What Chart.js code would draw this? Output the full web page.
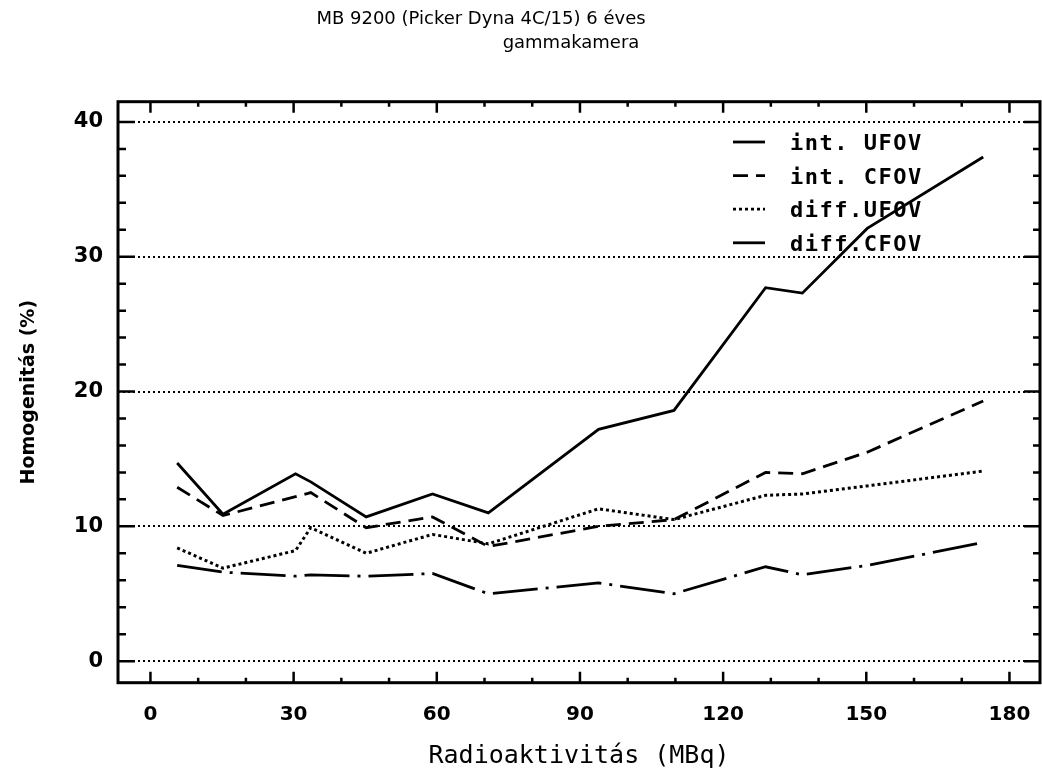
<!DOCTYPE html>
<html lang="hu">
<head>
<meta charset="utf-8">
<title>MB 9200 gammakamera – homogenitás</title>
<script src="https://cdn.jsdelivr.net/npm/chart.js@4.4.1/dist/chart.umd.min.js"></script>
<style>
    html, body { margin: 0; padding: 0; background: #fff; }
    canvas { display: block; }
</style>
</head>
<body>
<canvas id="grafikon" width="1042" height="773"></canvas>
<script>
// mérési pontok: aktivitás (MBq)
const aktivitas = [5.6, 15.2, 30.4, 33.6, 45.2, 59.1, 70.8, 93.9, 109.7, 128.9, 136.6, 150.2, 174.5];

// homogenitás (%) az egyes aktivitásoknál
const intUFOV  = [14.7, 10.9, 13.9, 13.3, 10.7, 12.4, 11.0, 17.2, 18.6, 27.7, 27.3, 32.1, 37.4];
const intCFOV  = [12.9, 10.8, 12.2, 12.5,  9.9, 10.7,  8.5, 10.0, 10.5, 14.0, 13.9, 15.5, 19.3];
const diffUFOV = [ 8.4,  6.9,  8.2,  9.9,  8.0,  9.4,  8.7, 11.3, 10.5, 12.3, 12.4, 13.0, 14.1];
const diffCFOV = [ 7.1,  6.6,  6.3,  6.4,  6.3,  6.5,  5.0,  5.8,  5.0,  7.0,  6.4,  7.1,  8.8];

const sorozatNevek = ["int. UFOV", "int. CFOV", "diff.UFOV", "diff.CFOV"];
const xTicks = [0, 30, 60, 90, 120, 150, 180];
const yTicks = [0, 10, 20, 30, 40];

function pontok(ertekek) {
    return aktivitas.map((x, i) => ({ x: x, y: ertekek[i] }));
}

// keret + befelé mutató osztásjelek mind a négy oldalon
const keret = {
    id: "keret",
    afterDatasetsDraw(chart) {
        const { ctx, chartArea: a, scales: { x, y } } = chart;
        ctx.save();
        ctx.strokeStyle = "#000";
        ctx.lineWidth = 2.5;
        ctx.beginPath();
        for (let v = 0; v <= 180; v += 10) {
            const px = x.getPixelForValue(v);
            const h = v % 30 === 0 ? 11 : 5;
            ctx.moveTo(px, a.bottom); ctx.lineTo(px, a.bottom - h);
            ctx.moveTo(px, a.top); ctx.lineTo(px, a.top + h);
        }
        for (let v = 0; v <= 40; v += 2) {
            const py = y.getPixelForValue(v);
            const fo = v % 10 === 0;
            ctx.moveTo(a.left, py); ctx.lineTo(a.left + (fo ? 17 : 8), py);
            ctx.moveTo(a.right, py); ctx.lineTo(a.right - (fo ? 16 : 7), py);
        }
        ctx.stroke();
        ctx.lineWidth = 3;
        ctx.strokeRect(a.left, a.top, a.right - a.left, a.bottom - a.top);
        ctx.restore();
    }
};

// jelmagyarázat a rajzterület jobb felső sarkában
const jelmagyarazat = {
    id: "jelmagyarazat",
    afterDraw(chart) {
        const ctx = chart.ctx;
        ctx.save();
        ctx.font = "bold 22px 'DejaVu Sans Mono'";
        ctx.letterSpacing = "1.5px";
        ctx.fillStyle = "#000";
        ctx.strokeStyle = "#000";
        chart.data.datasets.forEach((ds, i) => {
            const sor = 142 + i * 33.6;
            ctx.lineWidth = 2.8;
            ctx.setLineDash(ds.borderDash || []);
            ctx.beginPath();
            ctx.moveTo(733, sor);
            ctx.lineTo(765, sor);
            ctx.stroke();
            ctx.setLineDash([]);
            ctx.fillText(ds.label, 790, sor + 8);
        });
        ctx.restore();
    }
};

// kétsoros cím
const cim = {
    id: "cim",
    afterDraw(chart) {
        const ctx = chart.ctx;
        ctx.save();
        ctx.fillStyle = "#000";
        ctx.textAlign = "center";
        ctx.font = "18px 'DejaVu Sans'";
        ctx.fillText("MB 9200 (Picker Dyna 4C/15) 6 éves", 481, 24);
        ctx.fillText("gammakamera", 571, 48);
        ctx.restore();
    }
};

const vonal = { borderColor: "#000", borderWidth: 2.8, pointRadius: 0, tension: 0, fill: false, borderCapStyle: "butt" };

new Chart(document.getElementById("grafikon"), {
    type: "line",
    data: {
        datasets: [
            { ...vonal, label: sorozatNevek[0], data: pontok(intUFOV), borderDash: [] },
            { ...vonal, label: sorozatNevek[1], data: pontok(intCFOV), borderDash: [15, 8] },
            { ...vonal, label: sorozatNevek[2], data: pontok(diffUFOV), borderDash: [3, 3], borderWidth: 3 },
            { ...vonal, label: sorozatNevek[3], data: pontok(diffCFOV), borderDash: [45, 8, 3, 8] }
        ]
    },
    options: {
        responsive: false,
        animation: false,
        devicePixelRatio: 1,
        layout: { padding: { top: 101.7, right: 2, left: 0, bottom: 0 } },
        plugins: {
            legend: { display: false },
            tooltip: { enabled: false }
        },
        scales: {
            x: {
                type: "linear",
                min: -6.8,
                max: 186.4,
                afterBuildTicks: s => { s.ticks = xTicks.map(v => ({ value: v })); },
                afterFit: s => { s.height = 90.3; s.paddingLeft = 0; s.paddingRight = 0; },
                grid: { display: false, drawTicks: false },
                border: { display: false },
                ticks: {
                    color: "#000",
                    padding: 20,
                    maxRotation: 0,
                    font: { family: "DejaVu Sans", size: 20, weight: "bold" }
                },
                title: {
                    display: true,
                    text: "Radioaktivitás (MBq)",
                    color: "#000",
                    font: { family: "DejaVu Sans Mono", size: 25 },
                    padding: { top: 0, bottom: 2 }
                }
            },
            y: {
                type: "linear",
                min: -1.6,
                max: 41.5,
                afterBuildTicks: s => { s.ticks = yTicks.map(v => ({ value: v })); },
                afterFit: s => { s.width = 118; s.paddingTop = 0; s.paddingBottom = 0; },
                grid: { color: "#000", lineWidth: 2, drawTicks: false },
                border: { display: false, dash: [2, 3] },
                ticks: {
                    color: "#000",
                    padding: 15,
                    font: { family: "DejaVu Sans", size: 21, weight: "bold" }
                },
                title: {
                    display: true,
                    text: "Homogenitás (%)",
                    color: "#000",
                    font: { family: "DejaVu Sans", size: 19, weight: "bold" },
                    padding: { top: 18, bottom: 0 }
                }
            }
        }
    },
    plugins: [keret, jelmagyarazat, cim]
});
</script>
</body>
</html>
